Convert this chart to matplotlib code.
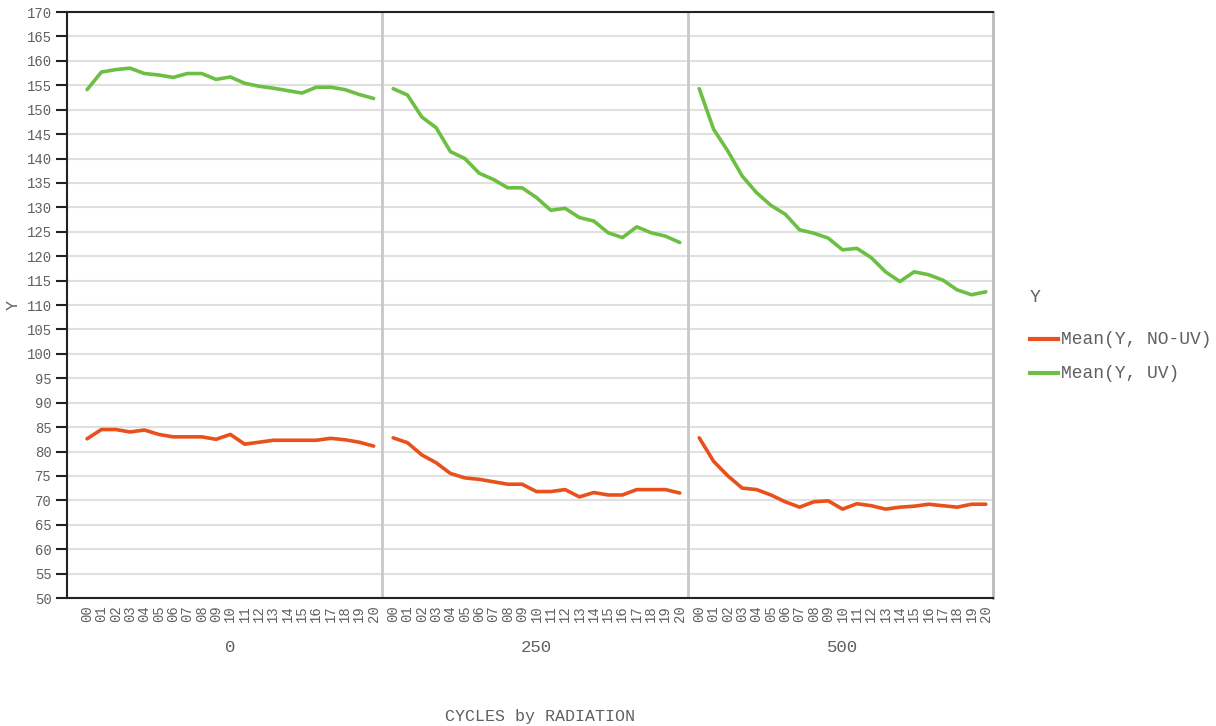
import matplotlib
matplotlib.use("Agg")
import matplotlib.pyplot as plt
from matplotlib.lines import Line2D
import matplotlib.transforms as mtransforms

radiation_groups = ["0", "250", "500"]
cycle_labels = ["%02d" % i for i in range(21)]

no_uv = [
    [82.6, 84.5, 84.5, 84.0, 84.4, 83.5, 83.0, 83.0, 83.0, 82.5, 83.5,
     81.5, 81.9, 82.3, 82.3, 82.3, 82.3, 82.7, 82.4, 81.9, 81.1],
    [82.8, 81.8, 79.3, 77.7, 75.5, 74.6, 74.3, 73.8, 73.3, 73.3, 71.8,
     71.8, 72.2, 70.7, 71.6, 71.1, 71.1, 72.2, 72.2, 72.2, 71.5],
    [82.8, 78.0, 75.0, 72.5, 72.2, 71.1, 69.7, 68.6, 69.7, 69.9, 68.2,
     69.3, 68.9, 68.2, 68.6, 68.8, 69.2, 68.9, 68.6, 69.2, 69.2],
]
uv = [
    [154.1, 157.7, 158.2, 158.5, 157.4, 157.1, 156.6, 157.4, 157.4, 156.2, 156.7,
     155.4, 154.8, 154.4, 153.9, 153.4, 154.6, 154.6, 154.1, 153.1, 152.3],
    [154.3, 153.0, 148.5, 146.3, 141.4, 140.0, 137.0, 135.7, 134.0, 134.0, 132.0,
     129.4, 129.8, 127.9, 127.2, 124.8, 123.8, 126.0, 124.8, 124.1, 122.8],
    [154.3, 146.0, 141.5, 136.4, 133.0, 130.4, 128.6, 125.4, 124.7, 123.7, 121.3,
     121.6, 119.7, 116.8, 114.8, 116.8, 116.2, 115.1, 113.1, 112.1, 112.7],
]
series_names = ["Mean(Y, NO-UV)", "Mean(Y, UV)"]
colors = ["#e8501c", "#6cbf43"]

GROUP_STEP = 21.36
MONO = ["Liberation Mono", "DejaVu Sans Mono"]
TXT = "#606060"

fig = plt.figure(figsize=(12.16, 7.26), dpi=100)
ax = fig.add_axes([67 / 1216, 1 - 598 / 726, 926 / 1216, 586 / 726])

xticks, xlabels = [], []
for g in range(len(radiation_groups)):
    xs = [g * GROUP_STEP + j for j in range(len(cycle_labels))]
    ax.plot(xs, no_uv[g], color=colors[0], lw=2.6, solid_capstyle="round", zorder=3)
    ax.plot(xs, uv[g], color=colors[1], lw=2.6, solid_capstyle="round", zorder=3)
    xticks += xs
    xlabels += cycle_labels
    if g > 0:
        ax.axvline(g * GROUP_STEP - (GROUP_STEP - 20) / 2 - 0.12, color="#c8c8c8", lw=2, zorder=2)

ax.set_xlim(-1.4, 2 * GROUP_STEP + 20 + 0.5)
ax.set_ylim(50, 170)
ax.set_yticks(range(50, 171, 5))
ax.set_xticks(xticks)
ax.set_xticklabels(xlabels, rotation=90, fontfamily=MONO, fontsize=10, color=TXT)
for lab in ax.get_yticklabels():
    lab.set_fontfamily(MONO)
    lab.set_fontsize(10)
    lab.set_color(TXT)
ax.tick_params(axis="y", length=8, width=1.5, color="#222222", pad=3)
ax.tick_params(axis="x", length=0, pad=5)
ax.grid(axis="y", color="#e0e0e0", lw=1.5, zorder=1)
ax.set_axisbelow(True)
for s in ["left", "bottom", "top"]:
    ax.spines[s].set_color("#222222")
    ax.spines[s].set_linewidth(1.5)
ax.spines["right"].set_color("#bbbbbb")
ax.spines["right"].set_linewidth(2)

trans = mtransforms.blended_transform_factory(ax.transData, fig.transFigure)
for g, name in enumerate(radiation_groups):
    ax.text(g * GROUP_STEP + 10, 1 - 648 / 726, name, transform=trans,
            ha="center", va="center", fontfamily=MONO, fontsize=12.5, color=TXT)

fig.text(540 / 1216, 1 - 716 / 726, "CYCLES by RADIATION", ha="center", va="center",
         fontfamily=MONO, fontsize=12, color=TXT)
fig.text(13 / 1216, 1 - 305 / 726, "Y", rotation=90, ha="center", va="center",
         fontfamily=MONO, fontsize=12, color=TXT)

# legend
fig.text(1030 / 1216, 1 - 297 / 726, "Y", ha="left", va="center",
         fontfamily=MONO, fontsize=13, color=TXT)
for i, (name, c) in enumerate(zip(series_names, colors)):
    yy = 1 - (339 + 34 * i) / 726
    fig.add_artist(Line2D([1030 / 1216, 1058 / 1216], [yy, yy], color=c, lw=3,
                          transform=fig.transFigure))
    fig.text(1061 / 1216, yy, name, ha="left", va="center",
             fontfamily=MONO, fontsize=13, color=TXT)

fig.savefig("out.png", dpi=100)
